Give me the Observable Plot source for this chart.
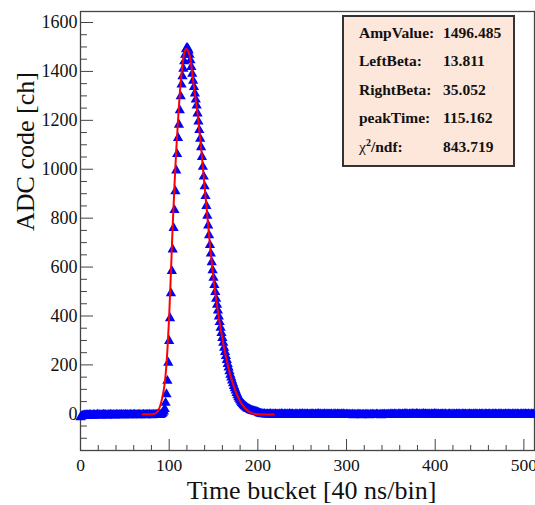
<!DOCTYPE html>
<html>
<head>
<meta charset="utf-8">
<script src="https://cdn.jsdelivr.net/npm/d3@7"></script>
<script src="https://cdn.jsdelivr.net/npm/@observablehq/plot@0.6"></script>
<style>
  html, body { margin: 0; padding: 0; background: #fff; }
  #chart { position: relative; width: 535px; height: 505px; }
  #stats {
    position: absolute; left: 342px; top: 15px; width: 173px; height: 152px;
    box-sizing: border-box; background: #fde6da; border: 2px solid #333;
    font-family: "Liberation Serif", "Times New Roman", serif;
    font-weight: bold; font-size: 15.5px; color: #111;
  }
  #stats .row { position: absolute; left: 0; right: 0; height: 20px; line-height: 20px; white-space: nowrap; }
  #stats .k { position: absolute; left: 15px; }
  #stats .v { position: absolute; left: 99px; }
  #stats .chi { font-weight: normal; }
  #stats sup { font-size: 10px; line-height: 0; vertical-align: 6px; }
</style>
</head>
<body>
<div id="chart"></div>
<script>
// ADC samples per time bucket: quiet baseline, the pulse, and the baseline after it
const pre = [
  -14,-11,-9,-8,-7,-6,-8,-5,-6,-7,
  -4,-6,-5,-8,-6,-4,-5,-7,-6,-3,
  -5,-6,-4,-7,-5,-6,-3,-5,-4,-6,
  -7,-5,-4,-6,-3,-5,-6,-4,-5,-7,
  -4,-3,-5,-6,-4,-5,-3,-6,-5,-4,
  -6,-3,-5,-4,-6,-5,-3,-4,-6,-5,
  -4,-3,-5,-6,-4,-5,-3,-4,-6,-5,
  -4,-3,-5,-4,-6,-3,-5,-4,-3,-5,
  -4,-6,-3,-4,-5,-3,-4,-2,-4,-3,
  -5,-2,0,4,10
];
const pulse = [
  20,45,80,135,209,298,391,493,584,672,
  760,833,910,995,1062,1128,1182,1241,1298,1346,
  1380,1411,1441,1468,1490,1496,
  1494,1485,1468,1445,1418,1390,1362,1336,1310,1285,
  1260,1228,1195,1160,1125,1090,1050,1010,970,930,
  890,850,810,770,730,690,655,620,587,556,
  527,498,470,446,422,398,375,352,330,310,
  290,270,253,236,220,204,189,174,160,148,
  136,125,114,104,95,85,76,68,61,55,
  49,44,40,36,32,29,26,23,21,19,
  17,15,13,12,11,10,9,8,7,6
];
const post = [
  4,2,1,0,-1,-2,0,-1,-3,-2,
  -1,-3,-2,0,-2,-4,-1,-3,-2,-1,
  -3,-2,-4,-1,-2,-3,0,-2,-4,-1,
  -2,-3,-1,-4,-2,0,-3,-2,-1,-3,
  -4,-2,-1,-3,-2,-5,-1,-2,-3,0,
  -2,-4,-1,-3,-2,-1,-4,-2,-3,-1,
  -3,-1,-2,-4,-1,-3,-2,0,-2,-3,
  -1,-4,-2,-3,-1,-2,-4,-1,-3,-2,
  -2,-3,-1,-5,-2,-3,-1,-2,-4,-1,
  -3,-2,-4,-1,-3,-2,-1,-3,-5,-2,
  -3,-4,-2,-5,-3,-4,-2,-6,-3,-4,
  -5,-3,-4,-2,-5,-3,-6,-4,-3,-5,
  -4,-2,-5,-3,-4,-6,-3,-5,-2,-4,
  -3,-5,-4,-2,-3,-5,-4,-3,-6,-2,
  -4,-3,-2,-5,-3,-4,-2,-3,-5,-1,
  -3,-2,-4,-1,-3,-2,-4,-3,-1,-2,
  -2,-4,-1,-3,-2,0,-3,-1,-2,-4,
  -1,-2,-3,0,-2,-1,-3,-2,0,-1,
  -3,-1,-2,-4,-1,-2,0,-3,-1,-2,
  -2,-3,-1,-2,-4,-1,-2,-3,0,-2,
  -1,-3,-2,-1,-4,-2,-3,-1,-2,-3,
  -2,-1,-3,-4,-2,-1,-3,-2,-5,-1,
  -3,-2,-4,-1,-3,-2,-1,-4,-2,-3,
  -1,-2,-3,-1,-4,-2,-3,-2,-1,-3,
  -2,-4,-1,-3,-2,-1,-3,-2,-4,-1,
  -3,-2,-1,-4,-2,-3,-1,-2,-3,-2,
  -1,-3,-2,-4,-1,-2,-3,-1,-2,-4,
  -2,-1,-3,-2,-1,-4,-2,-3,-1,-2,
  -3,-2,-1,-3,-2,-4,-1,-2,-3,-1,
  -2,-3,-1,-2,-4,-2,-1,-3,-2,-1,
  -3,-1,-2,-3,-1,-2,-4,-2,-1,-3,
  -2
];

// Pulse-shape fit, sampled along the fitted range
const fitBucket = [70,74,78,82,84,86,88,90,92,94,95,96,97,98,100,102,104,106,108,110,112,114,116,118,119,120,122,124,126,128,130,132,134,136,138,140,142,144,146,148,150,152,154,156,158,160,162,164,166,168,170,172,174,176,178,180,182,184,186,188,190,193,196,200,205,210,218];
const fitValue  = [-2,-2,-2,-1,1,6,16,34,62,100,125,160,205,260,400,580,770,935,1080,1200,1310,1395,1455,1487,1492,1490,1478,1448,1392,1336,1283,1226,1158,1088,1008,928,848,768,690,618,553,494,441,393,349,307,268,233,201,172,146,122,101,82,65,51,39,29,21,14,9,3,0,-2,-3,-3,-3];

// Fit results
const statLabels = ["AmpValue:", "LeftBeta:", "RightBeta:", "peakTime:", "χ²/ndf:"];
const statValues = ["1496.485", "13.811", "35.052", "115.162", "843.719"];

const xTicks = [0, 100, 200, 300, 400, 500];
const yTicks = [0, 200, 400, 600, 800, 1000, 1200, 1400, 1600];
const xTitle = "Time bucket [40 ns/bin]";
const yTitle = "ADC code [ch]";

const adc = pre.concat(pulse, post);
const fit = fitBucket.map((t, i) => ({t, v: fitValue[i]}));
const xMinor = d3.range(0, 513, 20).filter(v => v % 100 !== 0);
const yMinor = d3.range(-150, 1601, 50).filter(v => v % 200 !== 0);

const W = 535, H = 505, mL = 80, mR = 1, mT = 11, mB = 55;
const plotW = W - mL - mR, plotH = H - mT - mB;
const axisColor = "#444";
const plain = d => String(d);

const chart = Plot.plot({
  width: W, height: H,
  marginLeft: mL, marginRight: mR, marginTop: mT, marginBottom: mB,
  x: {domain: [0, 512]},
  y: {domain: [-150, 1645]},
  style: {fontFamily: "'Liberation Serif', 'Times New Roman', serif", color: "#111", background: "#fff"},
  marks: [
    Plot.frame({stroke: axisColor, strokeWidth: 1.3}),
    Plot.tickY(yTicks, {y: d => d, stroke: axisColor, insetRight: plotW - 13}),
    Plot.tickY(yMinor, {y: d => d, stroke: axisColor, insetRight: plotW - 7}),
    Plot.tickX(xTicks, {x: d => d, stroke: axisColor, insetTop: plotH - 11}),
    Plot.tickX(xMinor, {x: d => d, stroke: axisColor, insetTop: plotH - 5}),
    Plot.dot(adc, {x: (d, i) => i, y: d => d, symbol: "triangle", r: 3.8, fill: "#0000f5", stroke: "none"}),
    Plot.line(fit, {x: "t", y: "v", stroke: "#ff0000", strokeWidth: 2, curve: "catmull-rom"}),
    Plot.axisX({ticks: xTicks, tickFormat: plain, tickSize: 0, tickPadding: 8, fontSize: 17.5, label: null}),
    Plot.axisY({ticks: yTicks, tickFormat: plain, tickSize: 0, tickPadding: 3, fontSize: 18, label: null}),
    Plot.text([xTitle], {text: d => d, frameAnchor: "bottom", dy: 48, dx: 4, lineAnchor: "bottom", fontSize: 26}),
    Plot.text([yTitle], {text: d => d, frameAnchor: "left", rotate: -90, dx: -47, lineAnchor: "bottom", fontSize: 26})
  ]
});

const host = document.getElementById("chart");
host.appendChild(chart);

// Fit-parameter box in the upper right corner
const box = document.createElement("div");
box.id = "stats";
statLabels.forEach((label, i) => {
  const row = document.createElement("div");
  row.className = "row";
  row.style.top = (6 + i * 28.4) + "px";
  const k = document.createElement("span");
  k.className = "k";
  k.innerHTML = label.replace("χ", '<span class="chi">χ</span>').replace("²", "<sup>2</sup>");
  const v = document.createElement("span");
  v.className = "v";
  v.textContent = statValues[i];
  row.appendChild(k);
  row.appendChild(v);
  box.appendChild(row);
});
host.appendChild(box);
</script>
</body>
</html>
